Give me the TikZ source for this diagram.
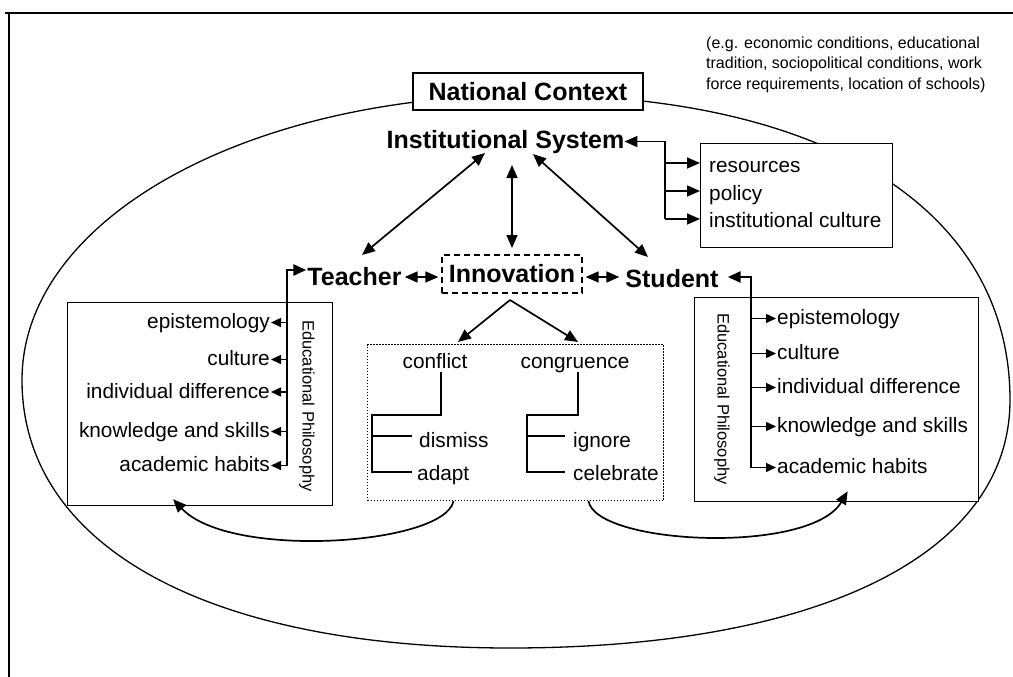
\documentclass[tikz,border=0pt]{standalone}
\usepackage{fontspec}
\setmainfont{Liberation Sans}
\usetikzlibrary{arrows.meta}
\begin{document}
\begin{tikzpicture}[x=1pt,y=-1pt,
  big/.style={font=\fontsize{25}{29}\selectfont\bfseries, inner sep=0pt},
  itm/.style={font=\fontsize{20.8}{24}\selectfont, inner sep=0pt},
  small/.style={font=\fontsize{16.5}{20.5}\selectfont, inner sep=0pt},
  note/.style={font=\fontsize{16}{20.5}\selectfont, inner sep=0pt},
  frame/.style={draw, line width=1.3pt, fill=white, inner sep=0pt},
  arr/.style={line width=1.7pt, -{Triangle[length=13pt,width=11pt]}},
  darr/.style={line width=1.7pt, {Triangle[length=13pt,width=11pt]}-{Triangle[length=13pt,width=11pt]}},
  sarr/.style={line width=1.5pt, -{Triangle[length=10pt,width=9pt]}},
  busline/.style={line width=2.6pt, -{Triangle[length=13pt,width=11pt]}},
  tree/.style={line width=1.6pt},
]
\useasboundingbox (0,0) rectangle (1013,677);
% outer frame
\draw[line width=1.6pt] (5,13) -- (1013,13);
\draw[line width=1.4pt] (9,13) -- (9,677);
% big oval
\draw[line width=1.3pt] (530,95) .. controls (245,95) and (22,220) .. (22,380)
  .. controls (22,546) and (207,648) .. (510,648)
  .. controls (820,648) and (1010,554) .. (1010,400)
  .. controls (1010,211) and (828,95) .. cycle;

% context note
\node[note, anchor=base west, align=left] (note) at (706,89)
  {(e.g. economic conditions, educational\\tradition, sociopolitical conditions, work\\force requirements, location of schools)};

\node[big, frame, minimum width=230pt, minimum height=37pt] (nc) at (528,91.5) {National Context};
\node[big, anchor=base] (is) at (505.5,148) {Institutional System};

% resources box
\node[frame, minimum width=192pt, minimum height=104pt, anchor=north west] (rbox) at (700,143) {};
\node[itm, anchor=base west] (r1) at (709,172) {resources};
\node[itm, anchor=base west] (r2) at (709,200) {policy};
\node[itm, anchor=base west] (r3) at (709,227) {institutional culture};
\coordinate (busR) at (665,219);
\draw[arr] (busR) |- (is.east);
\draw[arr] (busR |- 0,163) -- (rbox.west |- 0,163);
\draw[arr] (busR |- 0,191) -- (rbox.west |- 0,191);
\draw[arr] (busR) -- (rbox.west |- busR);

% middle row
\node[big, anchor=base] (teacher) at (354.5,285) {Teacher};
\node[big, anchor=base] (student) at (672,287) {Student};
\node[big, draw, line width=1.3pt, dash pattern=on 6pt off 4pt, minimum width=140pt, minimum height=38pt] (inno) at (512,274) {Innovation};

\coordinate (isA) at (485,153);
\coordinate (tA) at (362,255);
\coordinate (isB) at (512,165);
\coordinate (iB) at (512,248);
\coordinate (isC) at (533,154);
\coordinate (sC) at (648,257);
\draw[darr] (isA) -- (tA);
\draw[darr] (isB) -- (iB);
\draw[darr] (isC) -- (sC);
\draw[darr] ([xshift=3pt,yshift=8pt]teacher.base east) -- ([xshift=-3pt]inno.west |- 0,277);
\draw[darr] ([xshift=3pt]inno.east |- 0,277) -- ([xshift=-6pt,yshift=10pt]student.base west);

% left box
\node[frame, minimum width=265pt, minimum height=203pt, anchor=north west] (lbox) at (67,302) {};
\node[itm, anchor=base east] (a1) at (270,328.5) {epistemology};
\node[itm, anchor=base east] (a2) at (270,365.5) {culture};
\node[itm, anchor=base east] (a3) at (270,398) {individual difference};
\node[itm, anchor=base east] (a4) at (270,437.5) {knowledge and skills};
\node[itm, anchor=base east] (a5) at (270,471.5) {academic habits};
\node[small, rotate=-90] (ep1) at (307,406) {Educational Philosophy};
\foreach \n in {a1,a2,a3,a4,a5}
  \draw[sarr] ([xshift=17pt,yshift=6pt]\n.base east) -- ([xshift=1pt,yshift=6pt]\n.base east);
\draw[busline] ([xshift=17pt,yshift=6pt]a5.base east) |- ([xshift=-1pt,yshift=15pt]teacher.base west);

% right box
\node[frame, minimum width=284pt, minimum height=204pt, anchor=north west] (sbox) at (694,297) {};
\node[itm, anchor=base west] (b1) at (777,324.5) {epistemology};
\node[itm, anchor=base west] (b2) at (777,359.5) {culture};
\node[itm, anchor=base west] (b3) at (777,393.5) {individual difference};
\node[itm, anchor=base west] (b4) at (777,432.5) {knowledge and skills};
\node[itm, anchor=base west] (b5) at (777,473.5) {academic habits};
\node[small, rotate=-90] (ep2) at (722,399) {Educational Philosophy};
\foreach \n in {b1,b2,b3,b4,b5}
  \draw[sarr] ([xshift=-26pt,yshift=6pt]\n.base west) -- ([xshift=-1pt,yshift=6pt]\n.base west);
\draw[busline] ([xshift=-26pt,yshift=6pt]b5.base west) |- ([xshift=9pt,yshift=10pt]student.base east);

% conflict / congruence box
\node[draw, line width=1pt, dash pattern=on 1.5pt off 1.5pt, fill=white, minimum width=296pt, minimum height=156pt, anchor=north west, inner sep=0pt] (cbox) at (367,344) {};
\coordinate (iS) at (510,300);
\draw[arr] (iS) -- (458,342);
\draw[arr] (iS) -- (578,342);
\node[itm, anchor=base] (conf) at (435,368) {conflict};
\node[itm, anchor=base] (cong) at (575,368) {congruence};
\node[itm, anchor=base west] (dis) at (419,447) {dismiss};
\node[itm, anchor=base west] (ada) at (417,480) {adapt};
\node[itm, anchor=base west] (ign) at (573,447) {ignore};
\node[itm, anchor=base west] (cel) at (573,480) {celebrate};
\draw[tree] (441,372) -- (441,415) -- (372,415) -- (372,472) -- (412,472);
\draw[tree] (372,436) -- (412,436);
\draw[tree] (578,372) -- (578,415) -- (527,415) -- (527,472) -- (565,472);
\draw[tree] (527,436) -- (565,436);

% curved arrows
\draw[arr] ([xshift=-62pt]cbox.south) .. controls (445,545) and (230,560) .. ([xshift=-27pt,yshift=7pt]lbox.south);
\draw[arr] ([xshift=73pt]cbox.south) .. controls (596,545) and (810,555) .. ([xshift=11pt,yshift=11pt]sbox.south);
\end{tikzpicture}
\end{document}
